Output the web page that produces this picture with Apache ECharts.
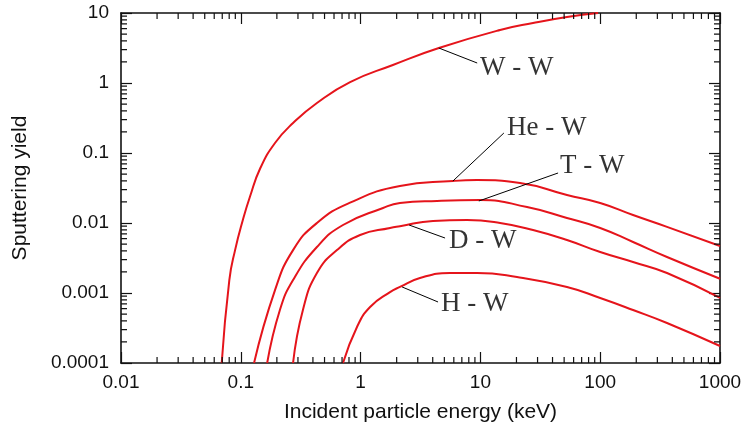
<!DOCTYPE html>
<html>
<head>
<meta charset="utf-8">
<script src="https://cdn.jsdelivr.net/npm/echarts@6/dist/echarts.min.js"></script>
<style>
  html, body { margin: 0; padding: 0; background: #ffffff; }
  #chart { width: 746px; height: 430px; }
</style>
</head>
<body>
<div id="chart"></div>
<script>
// Decade tick values and their labels
const xTickValues = [0.01, 0.1, 1, 10, 100, 1000];
const xTickLabels = ['0.01', '0.1', '1', '10', '100', '1000'];
const yTickValues = [0.0001, 0.001, 0.01, 0.1, 1, 10];
const yTickLabels = ['0.0001', '0.001', '0.01', '0.1', '1', '10'];

// Sputtering yield of tungsten versus incident energy (keV)
const energyWW = [0.0693, 0.0802, 0.0896, 0.104, 0.119, 0.145, 0.193, 0.273, 0.432, 0.817, 1.86, 4.5, 14.6, 27.5, 52.8, 96];
const yieldWW  = [0.0001, 0.00153, 0.0041, 0.011, 0.0235, 0.06, 0.139, 0.268, 0.518, 1.03, 1.81, 3.16, 5.72, 7.2, 8.77, 10];

const energyHeW = [0.129, 0.193, 0.273, 0.432, 0.817, 2.13, 5.9, 9.37, 21.4, 52.8, 100, 188, 361, 1000];
const yieldHeW  = [0.0001, 0.0011, 0.0041, 0.01, 0.0195, 0.0338, 0.0398, 0.0411, 0.0373, 0.0251, 0.0193, 0.013, 0.0088, 0.00469];

const energyTW = [0.166, 0.212, 0.273, 0.432, 0.713, 1.54, 2.13, 4.35, 9.94, 24.5, 52.8, 100, 188, 361, 1000];
const yieldTW  = [0.0001, 0.000572, 0.00153, 0.00454, 0.00936, 0.0164, 0.0193, 0.0207, 0.0213, 0.0169, 0.0118, 0.0085, 0.00535, 0.00327, 0.0016];

const energyDW = [0.273, 0.33, 0.432, 0.635, 0.99, 1.76, 2.13, 4.02, 7.73, 14.6, 27.5, 52.8, 100, 188, 361, 1000];
const yieldDW  = [0.0001, 0.000572, 0.00193, 0.0041, 0.00674, 0.0085, 0.009, 0.0107, 0.011, 0.01, 0.00794, 0.00572, 0.00385, 0.00277, 0.00193, 0.00085];

const energyHW = [0.713, 0.933, 1.2, 1.76, 2.13, 3.13, 5.57, 9.37, 20.2, 52.8, 100, 188, 361, 1000];
const yieldHW  = [0.0001, 0.000327, 0.00063, 0.00103, 0.00122, 0.00164, 0.00193, 0.00193, 0.00169, 0.00122, 0.000848, 0.000572, 0.000373, 0.000175];

const seriesNames = ['W - W', 'He - W', 'T - W', 'D - W', 'H - W'];
const seriesEnergy = [energyWW, energyHeW, energyTW, energyDW, energyHW];
const seriesYield = [yieldWW, yieldHeW, yieldTW, yieldDW, yieldHW];

// Callouts: point on the curve, end of the leader line, start of the text (energy, yield)
const leaderFrom = [[4.5, 3.16], [5.9, 0.0398], [9.7, 0.0206], [2.54, 0.00936], [2.22, 0.00122]];
const leaderTo   = [[9.4, 1.93], [15.7, 0.193], [44.5, 0.0518], [5.07, 0.0061], [4.43, 0.000744]];
const labelAt    = [[9.94, 1.64], [16.7, 0.228], [46.1, 0.0652], [5.47, 0.00553], [4.69, 0.000697]];

const X_MIN = xTickValues[0], X_MAX = xTickValues[xTickValues.length - 1];
const Y_MIN = yTickValues[0], Y_MAX = yTickValues[yTickValues.length - 1];

const SANS = "'Liberation Sans', Arial, Helvetica, sans-serif";
const SERIF = "'Liberation Serif', 'Times New Roman', serif";
const INK = '#111111';
const RED = '#e5141b';
const MINOR_LEN = 6;
const GRID = { left: 121, right: 26, top: 13, bottom: 67 };
const WIDTH = 746, HEIGHT = 430;

// 2..9 × each decade between lo and hi
function minorTickValues(lo, hi) {
  const out = [];
  for (let d = lo; d < hi * 0.999; d *= 10) {
    for (let k = 2; k <= 9; k++) out.push(Number((k * d).toPrecision(6)));
  }
  return out;
}

function labelFor(values, labels) {
  return function (v) {
    const i = values.findIndex(function (m) { return Math.abs(Math.log10(m) - Math.log10(v)) < 1e-6; });
    return i >= 0 ? labels[i] : '';
  };
}

// Minor ticks (2..9 of each decade) on all four sides of the frame, MINOR_LEN pixels
// long, as short polyline pieces in data space separated by gaps.
function minorTickPolyline() {
  const pxPerDecX = (WIDTH - GRID.left - GRID.right) / Math.log10(X_MAX / X_MIN);
  const pxPerDecY = (HEIGHT - GRID.top - GRID.bottom) / Math.log10(Y_MAX / Y_MIN);
  const fx = Math.pow(10, MINOR_LEN / pxPerDecX);
  const fy = Math.pow(10, MINOR_LEN / pxPerDecY);
  const gap = ['-', '-'];
  const pts = [];
  minorTickValues(X_MIN, X_MAX).forEach(function (v) {
    pts.push([v, Y_MIN], [v, Y_MIN * fy], gap);
    pts.push([v, Y_MAX], [v, Y_MAX / fy], gap);
  });
  minorTickValues(Y_MIN, Y_MAX).forEach(function (v) {
    pts.push([X_MIN, v], [X_MIN * fx, v], gap);
    pts.push([X_MAX, v], [X_MAX / fx, v], gap);
  });
  return pts;
}

// Frame axes: logarithmic, decade ticks pointing inward
function frameAxis(position, lo, hi, extra) {
  return Object.assign({
    type: 'log',
    logBase: 10,
    position: position,
    min: lo,
    max: hi,
    splitLine: { show: false },
    axisLine: { show: true, onZero: false, lineStyle: { color: INK, width: 1.6 } },
    axisTick: { show: true, inside: true, length: 11, lineStyle: { color: INK, width: 1.2 } },
    axisLabel: { show: false }
  }, extra || {});
}

const xAxes = [
  frameAxis('bottom', X_MIN, X_MAX, {
    axisLabel: { show: true, formatter: labelFor(xTickValues, xTickLabels), fontFamily: SANS, fontSize: 19, color: INK, margin: 10 },
    name: 'Incident particle energy (keV)',
    nameLocation: 'middle',
    nameGap: 39,
    nameTextStyle: { fontFamily: SANS, fontSize: 21, color: INK }
  }),
  frameAxis('top', X_MIN, X_MAX)
];
const yAxes = [
  frameAxis('left', Y_MIN, Y_MAX, {
    axisLabel: { show: true, formatter: labelFor(yTickValues, yTickLabels), fontFamily: SANS, fontSize: 19, color: INK, margin: 12 },
    name: 'Sputtering yield',
    nameLocation: 'middle',
    nameGap: 90,
    nameTextStyle: { fontFamily: SANS, fontSize: 21, color: INK }
  }),
  frameAxis('right', Y_MIN, Y_MAX)
];

const curveSeries = seriesNames.map(function (name, s) {
  return {
    name: name,
    type: 'line',
    xAxisIndex: 0,
    yAxisIndex: 0,
    data: seriesEnergy[s].map(function (e, i) { return [e, seriesYield[s][i]]; }),
    showSymbol: false,
    symbol: 'none',
    smooth: 0.5,
    clip: true,
    silent: true,
    lineStyle: { color: RED, width: 2 },
    markLine: {
      silent: true,
      symbol: 'none',
      animation: false,
      label: { show: false },
      lineStyle: { color: '#000000', width: 1, type: 'solid' },
      data: [[{ coord: leaderFrom[s] }, { coord: leaderTo[s] }]]
    },
    z: 3
  };
});

const labelSeries = {
  type: 'scatter',
  xAxisIndex: 0,
  yAxisIndex: 0,
  silent: true,
  symbolSize: 0,
  data: labelAt.map(function (p, i) { return { value: p, name: seriesNames[i] }; }),
  label: {
    show: true,
    position: 'right',
    distance: 0,
    formatter: '{b}',
    fontFamily: SERIF,
    fontSize: 27,
    color: '#000000'
  },
  z: 4
};

const minorTickSeries = {
  name: 'minor ticks',
  type: 'line',
  xAxisIndex: 0,
  yAxisIndex: 0,
  data: minorTickPolyline(),
  connectNulls: false,
  showSymbol: false,
  symbol: 'none',
  smooth: false,
  silent: true,
  clip: false,
  lineStyle: { color: INK, width: 1.2 },
  z: 5
};

const chart = echarts.init(document.getElementById('chart'), null, { renderer: 'canvas' });
chart.setOption({
  animation: false,
  backgroundColor: '#ffffff',
  grid: Object.assign({ containLabel: false, outerBoundsMode: 'none' }, GRID),
  xAxis: xAxes,
  yAxis: yAxes,
  series: curveSeries.concat([labelSeries, minorTickSeries])
});
</script>
</body>
</html>
